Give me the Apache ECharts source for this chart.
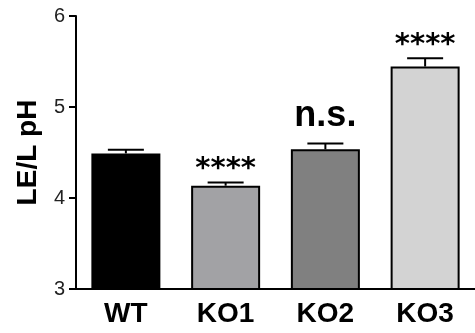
<!DOCTYPE html>
<html><head><meta charset="utf-8">
<script src="https://cdn.jsdelivr.net/npm/echarts@6/dist/echarts.min.js"></script>
<style>html,body{margin:0;padding:0;background:#fff}#c{width:475px;height:333px}</style>
</head><body><div id="c"></div>
<script>
const categories = ['WT', 'KO1', 'KO2', 'KO3'];
const means = [4.49, 4.135, 4.535, 5.445];
const errors = [0.04, 0.035, 0.065, 0.09];
const significance = ['', '****', 'n.s.', '****'];
const barColors = ['#000000', '#a2a2a5', '#808080', '#d3d3d3'];
const yTicks = [3, 4, 5, 6];

const chart = echarts.init(document.getElementById('c'));
chart.setOption({
  animation: false,
  grid: { left: 76, top: 16, width: 408, height: 273 },
  xAxis: {
    type: 'category', data: categories,
    axisLine: { lineStyle: { color: '#000', width: 2 } },
    axisTick: { alignWithLabel: true, length: 6, lineStyle: { color: '#000', width: 2 } },
    axisLabel: { color: '#000', fontFamily: 'Liberation Sans', fontWeight: 'bold', fontSize: 28, margin: 11 }
  },
  yAxis: {
    type: 'value', min: yTicks[0], max: yTicks[yTicks.length - 1], interval: 1,
    name: 'LE/L pH', nameLocation: 'middle', nameGap: 34,
    nameTextStyle: { color: '#000', fontFamily: 'Liberation Sans', fontWeight: 'bold', fontSize: 28 },
    splitLine: { show: false },
    axisLine: { show: true, lineStyle: { color: '#000', width: 2 } },
    axisTick: { show: true, length: 7, lineStyle: { color: '#000', width: 2 } },
    axisLabel: { color: '#222', fontFamily: 'Liberation Sans', fontSize: 20, margin: 11 }
  },
  series: [
    {
      type: 'bar', barWidth: 69,
      data: means.map((v, i) => ({ value: v, itemStyle: { color: barColors[i], borderColor: '#000', borderWidth: 2 } }))
    },
    {
      type: 'custom',
      data: means.map((v, i) => [i, v, errors[i]]),
      renderItem: function (params, api) {
        const x = api.value(0), m = api.value(1), e = api.value(2);
        const p0 = api.coord([x, m]);
        const p1 = api.coord([x, m + e]);
        const half = 18;
        const s = significance[params.dataIndex];
        const children = [
          { type: 'line', shape: { x1: p0[0], y1: p0[1], x2: p1[0], y2: p1[1] }, style: { stroke: '#000', lineWidth: 2 } },
          { type: 'line', shape: { x1: p1[0] - half, y1: p1[1], x2: p1[0] + half, y2: p1[1] }, style: { stroke: '#000', lineWidth: 2 } }
        ];
        if (s) {
          const ns = s === 'n.s.';
          children.push({
            type: 'text',
            style: {
              text: s, x: p1[0], y: p1[1] - (ns ? 27 : 13),
              textAlign: 'center', textVerticalAlign: 'middle',
              fill: '#000',
              fontFamily: ns ? 'Liberation Sans' : 'DejaVu Sans',
              fontWeight: 'bold', fontSize: ns ? 36 : 29
            }
          });
        }
        return { type: 'group', children: children };
      },
      z: 5
    }
  ]
});
</script></body></html>
